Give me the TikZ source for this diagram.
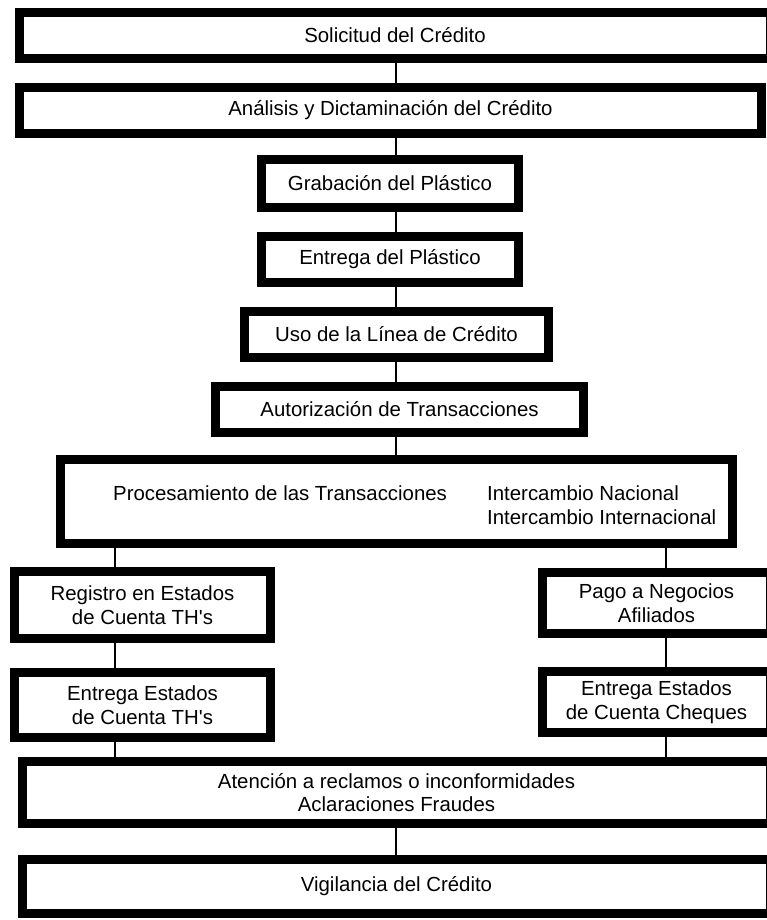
\documentclass[tikz,border=0pt]{standalone}
\usepackage{fontspec}
\setmainfont{Liberation Sans}
\usepackage{tikz}
\usetikzlibrary{calc}
\newcommand{\boxfont}{\fontsize{20.4}{23.5}\selectfont}
\tikzset{
  stagebox/.style={draw=black, line width=9pt, fill=white, inner sep=0pt, align=center, font=\boxfont},
  link/.style={draw=black, line width=1.8pt},
  lab/.style={inner sep=0pt, font=\boxfont},
}

\begin{document}
\begin{tikzpicture}[x=1pt, y=-1pt]
  \useasboundingbox[fill=white] (0,0) rectangle (767,920);
  \coordinate (mid) at (396,0);
  \coordinate (lft) at (115,0);
  \coordinate (rgt) at (666,0);

  \node[stagebox, minimum width=751, minimum height=46] (solic) at (395,35.5) {Solicitud del Crédito};
  \node[stagebox, minimum width=742, minimum height=46] (anal) at (390.5,110.5) {Análisis y Dictaminación del Crédito};
  \node[stagebox, minimum width=257, minimum height=48] (grab) at (390,183.5) {Grabación del Plástico};
  \node[stagebox, minimum width=257, minimum height=46] (entpl) at (390,259.5) {Entrega del Plástico};
  \node[stagebox, minimum width=304, minimum height=46] (uso) at (396.5,334.5) {Uso de la Línea de Crédito};
  \node[stagebox, minimum width=368, minimum height=46] (autor) at (399.5,409.5) {Autorización de Transacciones};
  \node[stagebox, minimum width=672, minimum height=84] (proc) at (396.5,501.5) {};
  \node[lab, anchor=west] (proctxt) at (113,493) {Procesamiento de las Transacciones};
  \node[lab, anchor=west, align=left] (intertxt) at (487,505) {Intercambio Nacional\\Intercambio Internacional};
  \node[stagebox, minimum width=256, minimum height=67] (regis) at (142.5,605) {Registro en Estados\\de Cuenta TH\textquotesingle s};
  \node[stagebox, minimum width=228, minimum height=61] (pago) at (656.5,603) {Pago a Negocios\\Afiliados};
  \node[stagebox, minimum width=256, minimum height=65] (entth) at (142.5,705) {Entrega Estados\\de Cuenta TH\textquotesingle s};
  \node[stagebox, minimum width=228, minimum height=61] (entch) at (656.5,702) {Entrega Estados\\de Cuenta Cheques};
  \node[stagebox, minimum width=748, minimum height=62] (atenc) at (396.5,792.5) {Atención a reclamos o inconformidades\\Aclaraciones Fraudes};
  \node[stagebox, minimum width=748, minimum height=54] (vigil) at (396.5,886.5) {Vigilancia del Crédito};

  % main chain
  \draw[link] (solic.south -| mid) -- (anal.north -| mid);
  \draw[link] (anal.south -| mid) -- (grab.north -| mid);
  \draw[link] (grab.south -| mid) -- (entpl.north -| mid);
  \draw[link] (entpl.south -| mid) -- (uso.north -| mid);
  \draw[link] (uso.south -| mid) -- (autor.north -| mid);
  \draw[link] (autor.south -| mid) -- (proc.north -| mid);
  % two branches
  \draw[link] (proc.south -| lft) -- (regis.north -| lft);
  \draw[link] (regis.south -| lft) -- (entth.north -| lft);
  \draw[link] (entth.south -| lft) -- (atenc.north -| lft);
  \draw[link] (proc.south -| rgt) -- (pago.north -| rgt);
  \draw[link] (pago.south -| rgt) -- (entch.north -| rgt);
  \draw[link] (entch.south -| rgt) -- (atenc.north -| rgt);
  \draw[link] (atenc.south -| mid) -- (vigil.north -| mid);
\end{tikzpicture}
\end{document}
